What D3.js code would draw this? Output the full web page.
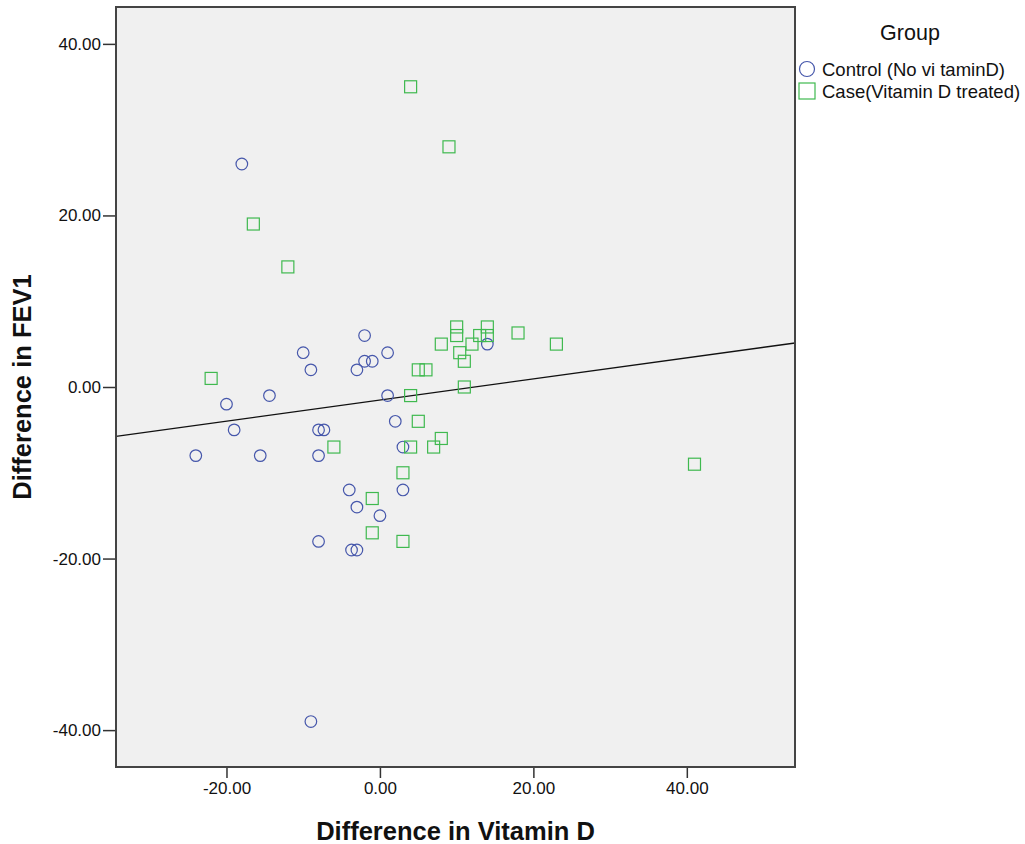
<!DOCTYPE html>
<html>
<head>
<meta charset="utf-8">
<script src="https://cdn.jsdelivr.net/npm/d3@7"></script>
<style>
  body { margin: 0; background: #fff; }
  text { font-family: Arial, "Liberation Sans", sans-serif; fill: #111; }
</style>
</head>
<body>
<svg></svg>
<script>
// Control (No vitamin D): [difference in vitamin D, difference in FEV1]
var controlX = [-18, -2, -10, -2, -1, 1, -9, -3, -20, -14.4, 1, -19, -8, -7.3, 2,
                -24, -15.6, -8, 3, -4, 3, -3, 0, -8, -3.7, -3, -9, 14];
var controlY = [26, 6, 4, 3, 3, 4, 2, 2, -2, -1, -1, -5, -5, -5, -4,
                -8, -8, -8, -7, -12, -12, -14, -15, -18, -19, -19, -39, 5];
// Case (Vitamin D treated)
var caseX = [4, 9, -16.5, -12, -22, -6, -1, -1, 3, 3, 4, 5, 4, 7, 8,
             5, 6, 8, 10, 10, 14, 13, 14, 12, 10.4, 11, 11, 18, 23, 41];
var caseY = [35, 28, 19, 14, 1, -7, -13, -17, -18, -10, -7, -4, -1, -7, -6,
             2, 2, 5, 7, 6, 7, 6, 6, 5, 4, 3, 0, 6.3, 5, -9];
var xTicks = [-20, 0, 20, 40];
var yTicks = [-40, -20, 0, 20, 40];
var groups = ['Control (No vi taminD)', 'Case(Vitamin D treated)'];

var width = 1025, height = 844;
var plot = {left: 116, top: 7, right: 795, bottom: 767};

var svg = d3.select('svg')
            .attr('width', width)
            .attr('height', height);

var xScale = d3.scaleLinear()
               .domain([-34.4, 54.1])
               .range([plot.left, plot.right]);
var yScale = d3.scaleLinear()
               .domain([-44.3, 44.3])
               .range([plot.bottom, plot.top]);

var control = controlX.map((x, i) => ({x: x, y: controlY[i]}));
var cases = caseX.map((x, i) => ({x: x, y: caseY[i]}));
var all = control.concat(cases);

svg.append('rect')
    .attr('x', plot.left)
    .attr('y', plot.top)
    .attr('width', plot.right - plot.left)
    .attr('height', plot.bottom - plot.top)
    .attr('fill', '#f0f0f0');

// axes (plain hyphen minus, as SPSS prints it)
var fmt = d => d.toFixed(2);
var xAxis = svg.append('g')
    .attr('transform', 'translate(0,' + plot.bottom + ')')
    .call(d3.axisBottom(xScale).tickValues(xTicks).tickFormat(fmt).tickSize(11).tickPadding(4));
var yAxis = svg.append('g')
    .attr('transform', 'translate(' + plot.left + ',0)')
    .call(d3.axisLeft(yScale).tickValues(yTicks).tickFormat(fmt).tickSize(13).tickPadding(2));

[xAxis, yAxis].forEach(function(g) {
  g.select('.domain').remove();
  g.selectAll('line').attr('stroke', '#333').attr('stroke-width', 1.5);
  g.selectAll('text').style('font-size', '17px').attr('fill', '#222');
});

// least squares fit over all points
var mx = d3.mean(all, d => d.x), my = d3.mean(all, d => d.y);
var slope = d3.sum(all, d => (d.x - mx) * (d.y - my)) / d3.sum(all, d => (d.x - mx) * (d.x - mx));
var intercept = my - slope * mx;
var xd = xScale.domain();
svg.append('line')
    .attr('x1', xScale(xd[0]))
    .attr('y1', yScale(intercept + slope * xd[0]))
    .attr('x2', xScale(xd[1]))
    .attr('y2', yScale(intercept + slope * xd[1]))
    .attr('stroke', '#111')
    .attr('stroke-width', 1.3);

svg.selectAll('circle.control')
    .data(control)
  .enter()
  .append('circle')
    .classed('control', true)
    .attr('cx', d => xScale(d.x))
    .attr('cy', d => yScale(d.y))
    .attr('r', 5.8)
    .attr('fill', 'none')
    .attr('stroke', '#4657ab')
    .attr('stroke-width', 1.2);

svg.selectAll('rect.case')
    .data(cases)
  .enter()
  .append('rect')
    .classed('case', true)
    .attr('x', d => xScale(d.x) - 6)
    .attr('y', d => yScale(d.y) - 6)
    .attr('width', 12)
    .attr('height', 12)
    .attr('fill', 'none')
    .attr('stroke', '#3fb94f')
    .attr('stroke-width', 1.2);

// frame
svg.append('rect')
    .attr('x', plot.left)
    .attr('y', plot.top)
    .attr('width', plot.right - plot.left)
    .attr('height', plot.bottom - plot.top)
    .attr('fill', 'none')
    .attr('stroke', '#444')
    .attr('stroke-width', 2);

// titles
svg.append('text')
    .text('Difference in Vitamin D')
    .attr('x', (plot.left + plot.right) / 2)
    .attr('y', 840)
    .attr('text-anchor', 'middle')
    .style('font-size', '25.5px')
    .style('font-weight', 'bold');

svg.append('text')
    .text('Difference in FEV1')
    .attr('transform', 'rotate(-90)')
    .attr('x', -(plot.top + plot.bottom) / 2)
    .attr('y', 31)
    .attr('text-anchor', 'middle')
    .style('font-size', '25.5px')
    .style('font-weight', 'bold');

// legend
svg.append('text')
    .text('Group')
    .attr('x', 910)
    .attr('y', 40)
    .attr('text-anchor', 'middle')
    .style('font-size', '21.5px')
    .attr('fill', '#222');

var legend = svg.selectAll('g.legend')
    .data(groups)
  .enter()
  .append('g')
    .classed('legend', true)
    .attr('transform', (d, i) => 'translate(807,' + (69 + i * 22) + ')');

legend.filter((d, i) => i === 0)
  .append('circle')
    .attr('r', 7.5)
    .attr('fill', 'none')
    .attr('stroke', '#4657ab')
    .attr('stroke-width', 1.2);
legend.filter((d, i) => i === 1)
  .append('rect')
    .attr('x', -8).attr('y', -8)
    .attr('width', 16).attr('height', 16)
    .attr('fill', 'none')
    .attr('stroke', '#3fb94f')
    .attr('stroke-width', 1.2);
legend.append('text')
    .text(d => d)
    .attr('x', 15)
    .attr('y', 7)
    .style('font-size', '18.5px')
    .attr('fill', '#222');
</script>
</body>
</html>
